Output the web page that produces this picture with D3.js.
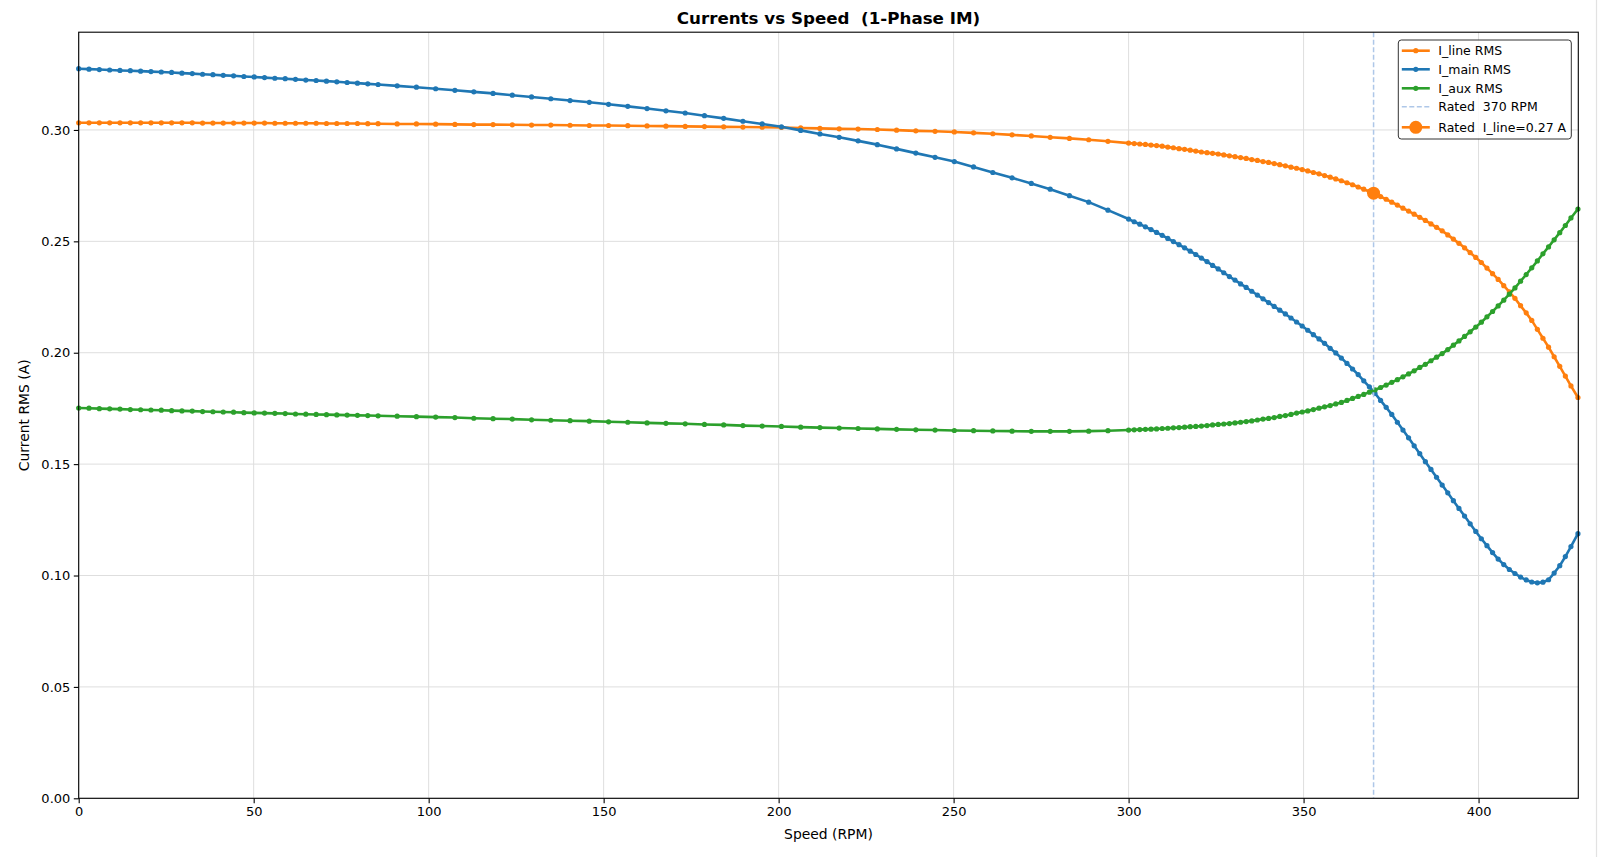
<!DOCTYPE html>
<html>
<head>
<meta charset="utf-8">
<script src="https://cdn.jsdelivr.net/npm/d3@7/dist/d3.min.js"></script>
<style>
  body { margin: 0; background: #fff; }
  svg text { font-family: "DejaVu Sans", sans-serif; white-space: pre; }
</style>
</head>
<body>
<div id="chart-area"></div>
<script>
// speed points (RPM)
var speed = [
  0, 2.95, 5.9, 8.85, 11.8, 14.75, 17.7, 20.65, 23.6, 26.55,
  29.5, 32.45, 35.4, 38.35, 41.3, 44.25, 47.2, 50.15, 53.1, 56.05,
  59, 61.95, 64.9, 67.85, 70.8, 73.75, 76.7, 79.65, 82.6, 85.55,
  91.0, 96.5, 102.0, 107.5, 112.9, 118.4, 123.9, 129.4, 134.9, 140.4,
  145.9, 151.4, 156.9, 162.4, 167.8, 173.3, 178.8, 184.3, 189.8, 195.3,
  200.8, 206.3, 211.8, 217.3, 222.7, 228.2, 233.7, 239.2, 244.7, 250.2,
  255.7, 261.2, 266.7, 272.2, 277.6, 283.1, 288.6, 294.1,
  300.0, 301.6, 303.2, 304.8, 306.4, 308.0, 309.6, 311.2, 312.8, 314.4,
  316.0, 317.6, 319.2, 320.8, 322.4, 324.0, 325.6, 327.2, 328.8, 330.4,
  332.0, 333.6, 335.2, 336.8, 338.4, 340.0, 341.6, 343.2, 344.8, 346.4,
  348.0, 349.6, 351.2, 352.8, 354.4, 356.0, 357.6, 359.2, 360.8, 362.4,
  364.0, 365.6, 367.2, 368.8, 370.4, 372.0, 373.6, 375.2, 376.8, 378.4,
  380.0, 381.6, 383.2, 384.8, 386.4, 388.0, 389.6, 391.2, 392.8, 394.4,
  396.0, 397.6, 399.2, 400.8, 402.4, 404.0, 405.6, 407.2, 408.8, 410.4,
  412.0, 413.6, 415.2, 416.8, 418.4, 420.0, 421.6, 423.2, 424.8, 426.4,
  428.4
];

var iLine = [
  0.3032, 0.3032, 0.3032, 0.3032, 0.3032, 0.3032, 0.3032, 0.3032, 0.3032, 0.3032,
  0.3032, 0.3032, 0.3031, 0.3031, 0.3031, 0.3031, 0.3031, 0.3031, 0.3031, 0.3030,
  0.3030, 0.3030, 0.3030, 0.3030, 0.3029, 0.3029, 0.3029, 0.3029, 0.3028, 0.3028,
  0.3027, 0.3027, 0.3026, 0.3025, 0.3024, 0.3024, 0.3023, 0.3022, 0.3022, 0.3021,
  0.3020, 0.3020, 0.3019, 0.3018, 0.3017, 0.3016, 0.3015, 0.3014, 0.3013, 0.3012,
  0.3011, 0.3009, 0.3007, 0.3005, 0.3004, 0.3002, 0.2999, 0.2996, 0.2994, 0.2991,
  0.2987, 0.2983, 0.2978, 0.2973, 0.2967, 0.2962, 0.2956, 0.2949,
  0.2941, 0.2939, 0.2937, 0.2935, 0.2932, 0.2930, 0.2927, 0.2923, 0.2920, 0.2916,
  0.2913, 0.2909, 0.2905, 0.2901, 0.2898, 0.2895, 0.2892, 0.2888, 0.2884, 0.2880,
  0.2876, 0.2872, 0.2867, 0.2863, 0.2858, 0.2854, 0.2849, 0.2844, 0.2839, 0.2833,
  0.2828, 0.2822, 0.2816, 0.2809, 0.2803, 0.2795, 0.2788, 0.2780, 0.2772, 0.2763,
  0.2754, 0.2744, 0.2734, 0.2724, 0.2713, 0.2701, 0.2689, 0.2676, 0.2663, 0.2649,
  0.2636, 0.2622, 0.2608, 0.2594, 0.2578, 0.2563, 0.2547, 0.2529, 0.2510, 0.2491,
  0.2471, 0.2449, 0.2428, 0.2405, 0.2380, 0.2355, 0.2329, 0.2301, 0.2273, 0.2244,
  0.2211, 0.2179, 0.2145, 0.2105, 0.2065, 0.2025, 0.1982, 0.1939, 0.1895, 0.1851,
  0.1799
];

var iMain = [
  0.3275, 0.3273, 0.3271, 0.3269, 0.3267, 0.3266, 0.3264, 0.3262, 0.3260, 0.3258,
  0.3255, 0.3253, 0.3250, 0.3248, 0.3245, 0.3243, 0.3240, 0.3238, 0.3235, 0.3232,
  0.3230, 0.3227, 0.3224, 0.3222, 0.3219, 0.3216, 0.3213, 0.3210, 0.3207, 0.3204,
  0.3198, 0.3192, 0.3185, 0.3178, 0.3171, 0.3164, 0.3156, 0.3148, 0.3140, 0.3132,
  0.3124, 0.3115, 0.3106, 0.3096, 0.3086, 0.3076, 0.3064, 0.3052, 0.3039, 0.3027,
  0.3014, 0.2998, 0.2982, 0.2967, 0.2951, 0.2934, 0.2915, 0.2896, 0.2877, 0.2858,
  0.2834, 0.2809, 0.2785, 0.2760, 0.2734, 0.2705, 0.2676, 0.2640,
  0.2600, 0.2588, 0.2577, 0.2565, 0.2553, 0.2540, 0.2527, 0.2513, 0.2499, 0.2485,
  0.2471, 0.2456, 0.2441, 0.2425, 0.2409, 0.2392, 0.2376, 0.2359, 0.2342, 0.2326,
  0.2309, 0.2293, 0.2276, 0.2259, 0.2242, 0.2225, 0.2208, 0.2191, 0.2174, 0.2156,
  0.2138, 0.2120, 0.2101, 0.2081, 0.2062, 0.2042, 0.2020, 0.1999, 0.1976, 0.1952,
  0.1927, 0.1902, 0.1874, 0.1847, 0.1818, 0.1786, 0.1755, 0.1723, 0.1688, 0.1653,
  0.1618, 0.1582, 0.1547, 0.1511, 0.1476, 0.1441, 0.1406, 0.1371, 0.1336, 0.1301,
  0.1267, 0.1232, 0.1198, 0.1165, 0.1134, 0.1103, 0.1074, 0.1049, 0.1027, 0.1009,
  0.0993, 0.0980, 0.0971, 0.0967, 0.0970, 0.0981, 0.1011, 0.1044, 0.1085, 0.1130,
  0.1188
];

var iAux = [
  0.1752, 0.1751, 0.1749, 0.1748, 0.1747, 0.1745, 0.1744, 0.1743, 0.1742, 0.1740,
  0.1739, 0.1738, 0.1736, 0.1735, 0.1734, 0.1733, 0.1731, 0.1730, 0.1729, 0.1728,
  0.1727, 0.1725, 0.1724, 0.1723, 0.1722, 0.1721, 0.1720, 0.1719, 0.1718, 0.1717,
  0.1715, 0.1713, 0.1711, 0.1709, 0.1706, 0.1704, 0.1702, 0.1699, 0.1697, 0.1695,
  0.1693, 0.1690, 0.1688, 0.1685, 0.1683, 0.1681, 0.1678, 0.1676, 0.1673, 0.1671,
  0.1669, 0.1666, 0.1664, 0.1662, 0.1660, 0.1658, 0.1656, 0.1654, 0.1653, 0.1651,
  0.1650, 0.1649, 0.1648, 0.1647, 0.1647, 0.1647, 0.1648, 0.1650,
  0.1653, 0.1654, 0.1655, 0.1656, 0.1657, 0.1658, 0.1660, 0.1661, 0.1663, 0.1664,
  0.1666, 0.1668, 0.1669, 0.1671, 0.1673, 0.1676, 0.1678, 0.1680, 0.1682, 0.1685,
  0.1688, 0.1691, 0.1694, 0.1698, 0.1702, 0.1705, 0.1709, 0.1714, 0.1718, 0.1723,
  0.1729, 0.1734, 0.1739, 0.1745, 0.1751, 0.1757, 0.1763, 0.1770, 0.1777, 0.1786,
  0.1795, 0.1804, 0.1813, 0.1823, 0.1833, 0.1844, 0.1855, 0.1867, 0.1879, 0.1892,
  0.1905, 0.1919, 0.1934, 0.1948, 0.1964, 0.1980, 0.1996, 0.2014, 0.2034, 0.2053,
  0.2073, 0.2094, 0.2115, 0.2137, 0.2161, 0.2185, 0.2210, 0.2236, 0.2263, 0.2291,
  0.2321, 0.2351, 0.2381, 0.2412, 0.2444, 0.2475, 0.2507, 0.2539, 0.2571, 0.2605,
  0.2645
];

var ratedSpeed = 370;
var ratedLine = 0.2716;

var xTicks = [0, 50, 100, 150, 200, 250, 300, 350, 400];
var yTicks = [0.00, 0.05, 0.10, 0.15, 0.20, 0.25, 0.30];

var seriesNames = ["I_line RMS", "I_main RMS", "I_aux RMS"];
var seriesColors = ["#ff7f0e", "#1f77b4", "#2ca02c"];
var legendLabels = ["I_line RMS", "I_main RMS", "I_aux RMS", "Rated  370 RPM", "Rated  I_line=0.27 A"];

var W = 1598, H = 857;
var margin = {top: 32.2, right: 19.7, bottom: 58.7, left: 78.7};
var width = W - margin.left - margin.right;
var height = H - margin.top - margin.bottom;

var svg = d3.select('#chart-area')
    .append('svg')
        .attr('width', W)
        .attr('height', H);

svg.append('rect').attr('width', W).attr('height', H).attr('fill', '#fff');

// faint figure edge on the right
svg.append('line')
    .attr('x1', W - 1.5).attr('x2', W - 1.5)
    .attr('y1', 0).attr('y2', H)
    .attr('stroke', '#e2e2e2').attr('stroke-width', 1.2);

var g = svg.append('g')
    .attr('transform', 'translate(' + margin.left + ', ' + margin.top + ')');

var x = d3.scaleLinear().domain([0, d3.max(speed) + 0.1]).range([0, width]);
var y = d3.scaleLinear().domain([0, d3.max(iMain) * 1.05]).range([height, 0]);

// grid
g.append('g').selectAll('line.vg')
    .data(xTicks).enter().append('line')
    .attr('x1', function(d) { return x(d); })
    .attr('x2', function(d) { return x(d); })
    .attr('y1', 0).attr('y2', height)
    .attr('stroke', '#dedede').attr('stroke-width', 1);

g.append('g').selectAll('line.hg')
    .data(yTicks).enter().append('line')
    .attr('x1', 0).attr('x2', width)
    .attr('y1', function(d) { return y(d); })
    .attr('y2', function(d) { return y(d); })
    .attr('stroke', '#dedede').attr('stroke-width', 1);

// axes
var bottomAxis = d3.axisBottom(x).tickValues(xTicks).tickSize(4.9).tickPadding(3.5)
    .tickFormat(d3.format('d'));
var xg = g.append('g')
    .attr('class', 'bottom axis')
    .attr('transform', 'translate(0, ' + height + ')')
    .call(bottomAxis);

var leftAxis = d3.axisLeft(y).tickValues(yTicks).tickSize(4.9).tickPadding(3.5)
    .tickFormat(d3.format('.2f'));
var yg = g.append('g')
    .attr('class', 'left axis')
    .call(leftAxis);

[xg, yg].forEach(function(a) {
    a.select('.domain').remove();
    a.selectAll('line').attr('stroke', '#000').attr('stroke-width', 1.1);
    a.selectAll('text')
        .attr('font-family', 'DejaVu Sans')
        .attr('font-size', '13px')
        .attr('fill', '#000');
});

// series
var data = speed.map(function(s, i) {
    return {speed: s, vals: [iLine[i], iMain[i], iAux[i]]};
});

seriesNames.forEach(function(name, k) {
    var line = d3.line()
        .x(function(d) { return x(d.speed); })
        .y(function(d) { return y(d.vals[k]); });

    var sg = g.append('g').attr('class', 'series');
    sg.append('path')
        .datum(data)
        .attr('d', line)
        .attr('fill', 'none')
        .attr('stroke', seriesColors[k])
        .attr('stroke-width', 2.6)
        .attr('stroke-linejoin', 'round');

    sg.selectAll('circle')
        .data(data).enter()
        .append('circle')
            .attr('cx', function(d) { return x(d.speed); })
            .attr('cy', function(d) { return y(d.vals[k]); })
            .attr('r', 2.6)
            .attr('fill', seriesColors[k]);
});

// rated speed line
g.append('line')
    .attr('x1', x(ratedSpeed)).attr('x2', x(ratedSpeed))
    .attr('y1', 0).attr('y2', height)
    .attr('stroke', '#aec7e8')
    .attr('stroke-width', 1.5)
    .attr('stroke-dasharray', '5,2.5');

g.append('circle')
    .attr('cx', x(ratedSpeed))
    .attr('cy', y(ratedLine))
    .attr('r', 6.5)
    .attr('fill', '#ff7f0e');

// frame
g.append('rect')
    .attr('width', width).attr('height', height)
    .attr('fill', 'none').attr('stroke', '#000').attr('stroke-width', 1.1);

// title and labels
svg.append('text')
    .attr('x', margin.left + width / 2)
    .attr('y', 24.3)
    .attr('text-anchor', 'middle')
    .attr('font-size', '16.7px')
    .attr('font-weight', 'bold')
    .text('Currents vs Speed  (1-Phase IM)');

svg.append('text')
    .attr('x', margin.left + width / 2)
    .attr('y', 839)
    .attr('text-anchor', 'middle')
    .attr('font-size', '13.9px')
    .text('Speed (RPM)');

svg.append('text')
    .attr('transform', 'translate(28.5, ' + (margin.top + height / 2) + ') rotate(-90)')
    .attr('text-anchor', 'middle')
    .attr('font-size', '13.9px')
    .text('Current RMS (A)');

// legend
var lg = svg.append('g').attr('transform', 'translate(1398.3, 40)');
lg.append('rect')
    .attr('width', 173).attr('height', 99)
    .attr('rx', 3).attr('ry', 3)
    .attr('fill', '#fff').attr('fill-opacity', 0.85)
    .attr('stroke', '#333').attr('stroke-width', 1);

var rowY = [10.7, 29.3, 48.3, 66.7, 87.3];
legendLabels.forEach(function(lab, i) {
    var ry = rowY[i];
    if (i < 3) {
        lg.append('line')
            .attr('x1', 3.5).attr('x2', 31.5).attr('y1', ry).attr('y2', ry)
            .attr('stroke', seriesColors[i]).attr('stroke-width', 2.6);
        lg.append('circle').attr('cx', 17.5).attr('cy', ry).attr('r', 2.6)
            .attr('fill', seriesColors[i]);
    } else if (i == 3) {
        lg.append('line')
            .attr('x1', 3.5).attr('x2', 31.5).attr('y1', ry).attr('y2', ry)
            .attr('stroke', '#aec7e8').attr('stroke-width', 1.5)
            .attr('stroke-dasharray', '5,2.5');
    } else {
        lg.append('line')
            .attr('x1', 3.5).attr('x2', 31.5).attr('y1', ry).attr('y2', ry)
            .attr('stroke', '#ff7f0e').attr('stroke-width', 2.6);
        lg.append('circle').attr('cx', 17.5).attr('cy', ry).attr('r', 6.5)
            .attr('fill', '#ff7f0e');
    }
    lg.append('text')
        .attr('x', 40).attr('y', ry + 4.5)
        .attr('font-size', '12.5px')
        .text(lab);
});
</script>
</body>
</html>
